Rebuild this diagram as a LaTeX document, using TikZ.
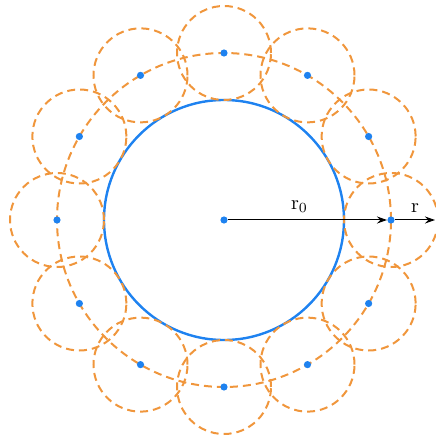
\documentclass[tikz,border=0pt]{standalone}
\usetikzlibrary{arrows.meta}
\definecolor{ringblue}{RGB}{30,130,240}
\definecolor{haloorange}{RGB}{240,150,60}
\begin{document}
\begin{tikzpicture}[
    x=0.5pt, y=0.5pt,
    core/.style={draw=ringblue, line width=1.2pt},
    halo/.style={draw=haloorange, line width=1pt, dash pattern=on 4pt off 2.5pt},
    dot/.style={circle, fill=ringblue, inner sep=0pt, minimum size=3.6pt},
    radarrow/.style={-{Stealth[length=5pt, width=3.5pt]}, black, line width=0.5pt}
]
\useasboundingbox (-224,-219) rectangle (211,220);

% Circles
\draw[core] (0,0) circle (120);
\draw[halo] (0,0) circle (167);
\foreach \a in {0,30,...,330}
    \draw[halo] (\a:167) circle (47);

% Centres
\node[dot] (o) at (0,0) {};
\foreach \a [count=\i] in {0,30,...,330}
    \node[dot] (p\i) at (\a:167) {};
\coordinate (rend) at (211,0);

% Arrows
\draw[radarrow] (o) -- node[above, pos=0.45] {$\mathrm{r}_0$} (p1);
\draw[radarrow] (p1) -- node[above, pos=0.5] {$\mathrm{r}$} (rend);

\end{tikzpicture}
\end{document}
